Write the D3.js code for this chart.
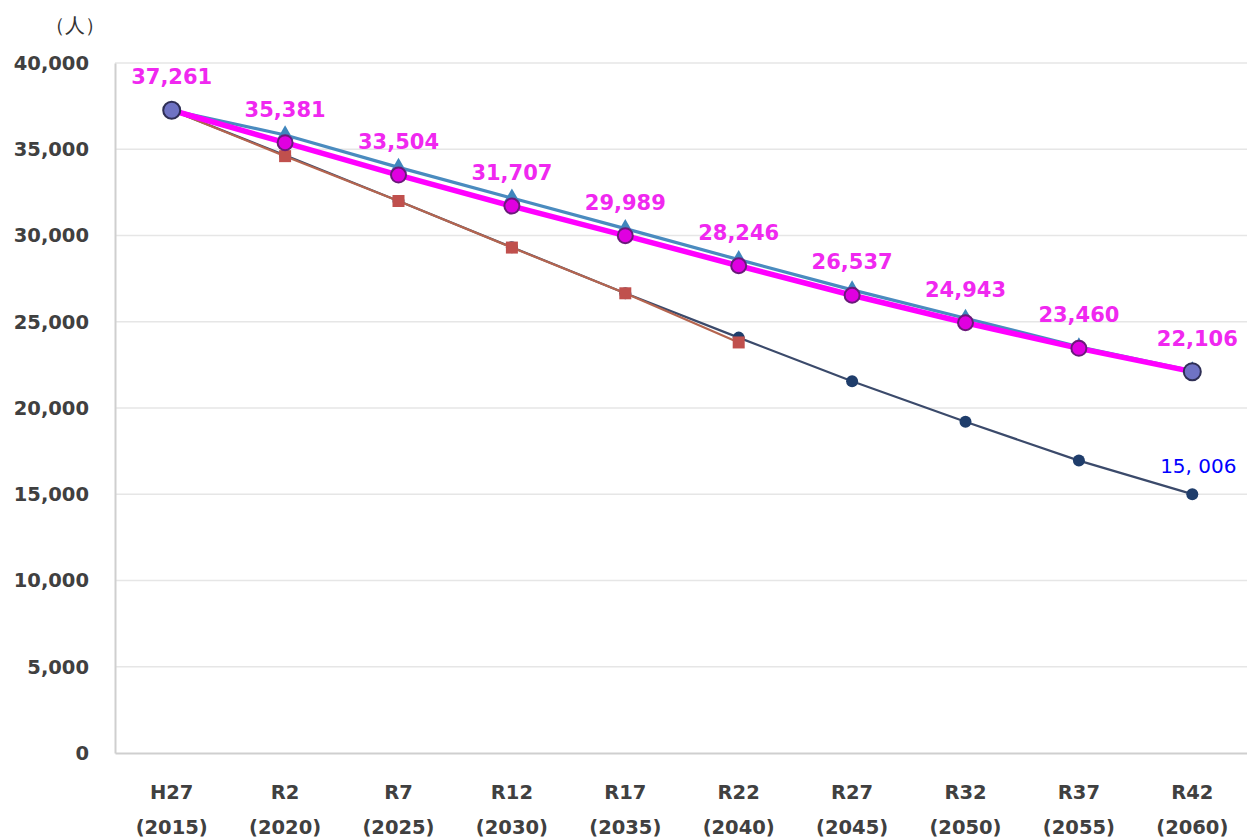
<!DOCTYPE html>
<html>
<head>
<meta charset="utf-8">
<script src="https://cdn.jsdelivr.net/npm/d3@7"></script>
<style>
  body { margin: 0; background: #fff; }
  text { font-family: "DejaVu Sans", sans-serif; }
</style>
</head>
<body>
<div id="chart"></div>
<script>
(function() {

  var width = 1247,
      height = 840

  // categories
  var wareki = ["H27", "R2", "R7", "R12", "R17", "R22", "R27", "R32", "R37", "R42"]
  var years = ["2015", "2020", "2025", "2030", "2035", "2040", "2045", "2050", "2055", "2060"]

  // series
  var targetPop = [37261, 35381, 33504, 31707, 29989, 28246, 26537, 24943, 23460, 22106]
  var triPop = [37261, 35830, 33950, 32170, 30400, 28600, 26850, 25200, 23550, 22150]
  var squarePop = [37261, 34600, 32000, 29300, 26650, 23800]
  var basePop = [37261, 34650, 32000, 29320, 26650, 24080, 21550, 19200, 16950, 15006]

  var yTicks = [0, 5000, 10000, 15000, 20000, 25000, 30000, 35000, 40000]

  var margin = { left: 115, right: -2, top: 63, bottom: 87 }

  var svg = d3.select("#chart")
    .append("svg")
    .attr("width", width)
    .attr("height", height)

  var xScale = d3.scaleBand()
    .domain(wareki)
    .range([margin.left, width - margin.right])

  var yScale = d3.scaleLinear()
    .domain([0, 40000])
    .range([height - margin.bottom, margin.top])

  var cx = function(i) { return xScale(wareki[i]) + xScale.bandwidth() / 2 }
  var fmt = d3.format(",")

  // gridlines
  svg.append("g")
    .selectAll("line")
    .data(yTicks.slice(1))
    .enter().append("line")
    .attr("x1", margin.left)
    .attr("x2", width)
    .attr("y1", function(d) { return yScale(d) })
    .attr("y2", function(d) { return yScale(d) })
    .attr("stroke", "#e6e6e6")
    .attr("stroke-width", 1.5)

  // y axis
  var yAxis = svg.append("g")
    .attr("transform", "translate(" + margin.left + ",0)")
    .call(d3.axisLeft(yScale).tickValues(yTicks).tickSize(0).tickPadding(26).tickFormat(fmt))
  yAxis.select(".domain").attr("stroke", "#cfcfcf").attr("stroke-width", 2)
  yAxis.selectAll("text")
    .attr("font-size", 19.5)
    .attr("font-weight", "bold")
    .attr("fill", "#404040")
    .attr("font-family", "'DejaVu Sans', sans-serif")

  // x axis
  var xAxis = svg.append("g")
    .attr("transform", "translate(0," + yScale(0) + ")")
    .call(d3.axisBottom(xScale).tickSize(0).tickFormat(""))
  xAxis.select(".domain").attr("stroke", "#cfcfcf").attr("stroke-width", 2)

  var xl = svg.append("g").selectAll("text")
    .data(wareki)
    .enter().append("text")
    .attr("text-anchor", "middle")
    .attr("font-size", 19.5)
    .attr("font-weight", "bold")
    .attr("fill", "#404040")
  xl.append("tspan")
    .attr("x", function(d, i) { return cx(i) })
    .attr("y", 799)
    .text(function(d) { return d })
  xl.append("tspan")
    .attr("x", function(d, i) { return cx(i) })
    .attr("y", 834)
    .text(function(d, i) { return "(" + years[i] + ")" })

  // unit
  svg.append("text")
    .attr("x", 75)
    .attr("y", 32)
    .attr("text-anchor", "middle")
    .attr("font-size", 20)
    .attr("fill", "#333")
    .attr("font-family", "'Noto Sans CJK JP', sans-serif")
    .text("（人）")

  var line = d3.line()
    .x(function(d, i) { return cx(i) })
    .y(function(d) { return yScale(d) })

  // base projection (navy)
  svg.append("path")
    .datum(basePop)
    .attr("d", line)
    .attr("fill", "none")
    .attr("stroke", "#3b4a6b")
    .attr("stroke-width", 2.2)
  svg.append("g").selectAll("circle")
    .data(basePop)
    .enter().append("circle")
    .attr("cx", function(d, i) { return cx(i) })
    .attr("cy", function(d) { return yScale(d) })
    .attr("r", 6)
    .attr("fill", "#1f3d6b")

  // square series (red)
  svg.append("path")
    .datum(squarePop)
    .attr("d", line)
    .attr("fill", "none")
    .attr("stroke", "#b5654f")
    .attr("stroke-width", 2.2)
  svg.append("g").selectAll("rect")
    .data(squarePop)
    .enter().append("rect")
    .attr("x", function(d, i) { return cx(i) - 6 })
    .attr("y", function(d) { return yScale(d) - 6 })
    .attr("width", 12)
    .attr("height", 12)
    .attr("fill", "#c0504d")

  // triangle series (blue)
  svg.append("path")
    .datum(triPop)
    .attr("d", line)
    .attr("fill", "none")
    .attr("stroke", "#4a8bbf")
    .attr("stroke-width", 3.2)
  svg.append("g").selectAll("path")
    .data(triPop)
    .enter().append("path")
    .attr("d", d3.symbol().type(d3.symbolTriangle).size(120))
    .attr("transform", function(d, i) { return "translate(" + cx(i) + "," + yScale(d) + ")" })
    .attr("fill", "#3f86bd")

  // target series (magenta)
  svg.append("path")
    .datum(targetPop)
    .attr("d", line)
    .attr("fill", "none")
    .attr("stroke", "#ff00ff")
    .attr("stroke-width", 5.5)
  svg.append("g").selectAll("circle")
    .data(targetPop)
    .enter().append("circle")
    .attr("cx", function(d, i) { return cx(i) })
    .attr("cy", function(d) { return yScale(d) })
    .attr("r", function(d, i) { return (i === 0 || i === targetPop.length - 1) ? 8.5 : 7.5 })
    .attr("fill", function(d, i) { return (i === 0 || i === targetPop.length - 1) ? "#6f73c4" : "#e000e0" })
    .attr("stroke", function(d, i) { return (i === 0 || i === targetPop.length - 1) ? "#2f2f55" : "#6a1a7a" })
    .attr("stroke-width", 2)

  // labels for target
  svg.append("g").selectAll("text")
    .data(targetPop)
    .enter().append("text")
    .attr("x", function(d, i) { return i === targetPop.length - 1 ? cx(i) + 5 : cx(i) })
    .attr("y", function(d) { return yScale(d) - 26 })
    .attr("text-anchor", "middle")
    .attr("font-size", 21)
    .attr("font-weight", "bold")
    .attr("fill", "#f028f0")
    .text(function(d) { return fmt(d) })

  // label for base final value
  svg.append("text")
    .attr("x", cx(basePop.length - 1) + 6)
    .attr("y", yScale(basePop[basePop.length - 1]) - 21)
    .attr("text-anchor", "middle")
    .attr("font-size", 20)
    .attr("fill", "#0000ff")
    .attr("font-family", "'Noto Sans CJK JP', sans-serif")
    .text("15, 006")

})()
</script>
</body>
</html>
